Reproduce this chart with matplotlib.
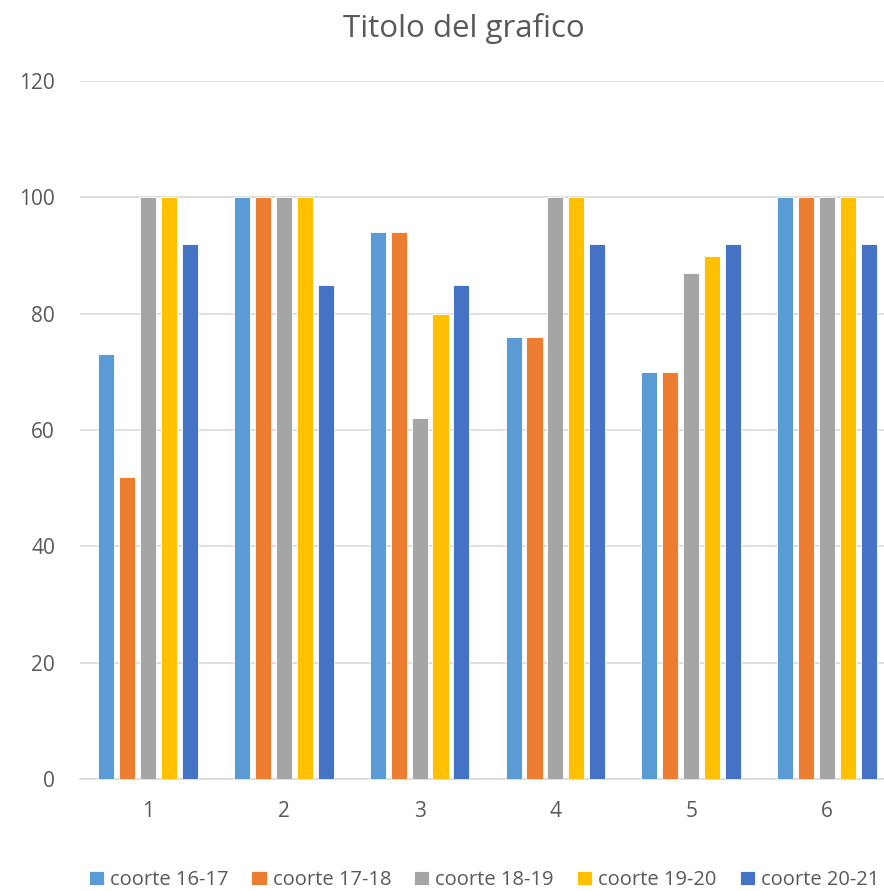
import matplotlib.pyplot as plt
import numpy as np

categorie = ['1', '2', '3', '4', '5', '6']
serie = ['coorte 16-17', 'coorte 17-18', 'coorte 18-19', 'coorte 19-20', 'coorte 20-21']
coorte_16_17 = [73, 100, 94, 76, 70, 100]
coorte_17_18 = [52, 100, 94, 76, 70, 100]
coorte_18_19 = [100, 100, 62, 100, 87, 100]
coorte_19_20 = [100, 100, 80, 100, 90, 100]
coorte_20_21 = [92, 85, 85, 92, 92, 92]
valori = [coorte_16_17, coorte_17_18, coorte_18_19, coorte_19_20, coorte_20_21]
colori = ['#5B9BD5', '#ED7D31', '#A5A5A5', '#FFC000', '#4472C4']

plt.rcParams['font.family'] = ['Open Sans', 'DejaVu Sans']
testo = '#595959'

fig = plt.figure(figsize=(8.84, 8.91), dpi=100)
ax = fig.add_axes([80 / 884, 1 - 779 / 891, 815 / 884, 698 / 891])

x = np.arange(len(categorie))
passo = 0.154
for i, (nome, v, c) in enumerate(zip(serie, valori, colori)):
    ax.bar(x + (i - 2) * passo, v, width=0.118, color=c, label=nome,
           edgecolor='white', linewidth=0.6, zorder=3)

ax.set_xlim(-0.5, len(categorie) - 0.5)
ax.set_ylim(0, 120)
ax.set_yticks(range(0, 121, 20))
ax.set_xticks(x)
ax.set_xticklabels(categorie)
ax.grid(axis='y', color='#D9D9D9', linewidth=1.2, zorder=0)
for s in ['top', 'right', 'left']:
    ax.spines[s].set_visible(False)
ax.spines['bottom'].set_color('#D9D9D9')
ax.spines['bottom'].set_linewidth(1.2)
ax.tick_params(length=0, labelsize=15, colors=testo)
ax.tick_params(axis='x', pad=16)
ax.tick_params(axis='y', pad=18)

fig.text(464 / 884, 1 - 28 / 891, 'Titolo del grafico', ha='center', va='center',
         fontsize=22.5, color=testo)

fig.legend(loc='center', bbox_to_anchor=(484 / 884, 1 - 880 / 891), ncol=5, frameon=False,
           fontsize=14.5, labelcolor=testo, handlelength=0.75, handleheight=0.75,
           handletextpad=0.3, columnspacing=1.15)

fig.savefig('out.png', dpi=100)
